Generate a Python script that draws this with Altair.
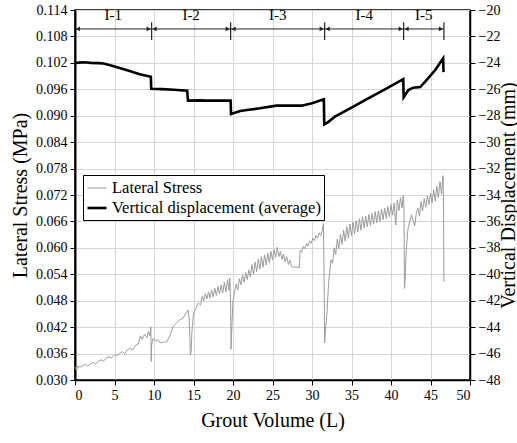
import altair as alt
import pandas as pd

# ---------------- data ----------------
stress_x = [0.0, 0.2, 0.3, 0.8, 1.0, 1.3, 1.6, 2.0, 2.3, 2.6, 3.0, 3.3, 3.6, 4.0, 4.3, 4.6,
            5.0, 5.3, 5.6, 6.0, 6.3, 6.6, 7.0, 7.3, 7.6, 8.0, 8.3, 8.5, 8.8, 9.1, 9.3, 9.5,
            9.6, 9.65, 9.7, 9.9, 10.2, 10.5, 10.8, 11.2, 11.6, 12.0, 12.4, 12.8, 13.2, 13.7,
            14.0, 14.3, 14.45, 14.55, 14.6, 14.7, 14.8, 15.0, 15.3, 15.6, 15.9, 16.1, 16.3,
            16.5, 16.7, 16.9, 17.1, 17.3, 17.5, 17.7, 17.9, 18.1, 18.3, 18.5, 18.7, 18.9,
            19.1, 19.3, 19.5, 19.6, 19.7, 19.75, 19.85, 20.0, 20.2, 20.4, 20.6, 20.8, 21.0,
            21.2, 21.4, 21.6, 21.8, 22.0, 22.2, 22.4, 22.6, 22.8, 23.0, 23.2, 23.4, 23.6,
            23.8, 24.0, 24.2, 24.4, 24.6, 24.8, 25.0, 25.2, 25.4, 25.6, 25.8, 26.0, 26.2,
            26.4, 26.6, 26.8, 27.0, 27.2, 27.4, 27.6, 28.0, 28.4, 28.5, 28.7, 28.9, 29.1,
            29.3, 29.5, 29.7, 29.9, 30.1, 30.3, 30.5, 30.7, 30.9, 31.1, 31.3, 31.45, 31.55,
            31.6, 31.7, 31.9, 32.1, 32.4, 32.6, 32.8, 33.0, 33.2, 33.4, 33.6, 33.8, 34.0,
            34.2, 34.4, 34.6, 34.8, 35.0, 35.2, 35.4, 35.6, 35.8, 36.0, 36.2, 36.4, 36.6,
            36.8, 37.0, 37.2, 37.4, 37.6, 37.8, 38.0, 38.2, 38.4, 38.6, 38.8, 39.0, 39.2,
            39.4, 39.6, 39.8, 40.0, 40.2, 40.4, 40.6, 40.8, 41.0, 41.2, 41.4, 41.55, 41.65,
            41.7, 41.8, 41.9, 42.0, 42.1, 42.2, 42.4, 42.6, 42.8, 43.0, 43.2, 43.4, 43.6,
            43.8, 44.0, 44.2, 44.4, 44.6, 44.8, 45.0, 45.2, 45.4, 45.6, 45.8, 46.0, 46.2,
            46.4, 46.55, 46.6, 46.65, 46.7]
stress_y = [0.0330, 0.0322, 0.0330, 0.0330, 0.0332, 0.0336, 0.0332, 0.0337, 0.0340, 0.0337,
            0.0343, 0.0346, 0.0343, 0.0350, 0.0353, 0.0350, 0.0357, 0.0355, 0.0360, 0.0364,
            0.0360, 0.0368, 0.0372, 0.0368, 0.0378, 0.0382, 0.0400, 0.0392, 0.0404, 0.0396,
            0.0410, 0.0400, 0.0421, 0.0342, 0.0380, 0.0395, 0.0388, 0.0392, 0.0384, 0.0386,
            0.0386, 0.0400, 0.0421, 0.0428, 0.0436, 0.0441, 0.0450, 0.0459, 0.0440, 0.0390,
            0.0357, 0.0365, 0.0410, 0.0452, 0.0462, 0.0475, 0.0470, 0.0490, 0.0480, 0.0496,
            0.0484, 0.0500, 0.0486, 0.0504, 0.0489, 0.0508, 0.0492, 0.0512, 0.0496, 0.0516,
            0.0498, 0.0522, 0.0500, 0.0528, 0.0504, 0.0531, 0.0470, 0.0370, 0.0420, 0.0480,
            0.0500, 0.0518, 0.0504, 0.0530, 0.0516, 0.0538, 0.0522, 0.0544, 0.0528, 0.0550,
            0.0534, 0.0562, 0.0540, 0.0568, 0.0546, 0.0574, 0.0552, 0.0580, 0.0556, 0.0584,
            0.0561, 0.0588, 0.0566, 0.0592, 0.0573, 0.0596, 0.0578, 0.0601, 0.0580, 0.0592,
            0.0574, 0.0586, 0.0568, 0.0580, 0.0562, 0.0572, 0.0558, 0.0556, 0.0557, 0.0555,
            0.0595, 0.0590, 0.0604, 0.0598, 0.0610, 0.0604, 0.0616, 0.0610, 0.0622, 0.0616,
            0.0628, 0.0622, 0.0634, 0.0628, 0.0640, 0.0655, 0.0500, 0.0384, 0.0410, 0.0452,
            0.0520, 0.0573, 0.0565, 0.0600, 0.0585, 0.0620, 0.0598, 0.0630, 0.0608, 0.0640,
            0.0615, 0.0648, 0.0622, 0.0654, 0.0628, 0.0658, 0.0632, 0.0662, 0.0636, 0.0666,
            0.0640, 0.0670, 0.0645, 0.0672, 0.0648, 0.0676, 0.0650, 0.0678, 0.0654, 0.0682,
            0.0657, 0.0684, 0.0660, 0.0688, 0.0664, 0.0690, 0.0667, 0.0694, 0.0670, 0.0698,
            0.0675, 0.0702, 0.0652, 0.0708, 0.0684, 0.0714, 0.0690, 0.0718, 0.0690, 0.0508,
            0.0530, 0.0584, 0.0610, 0.0635, 0.0648, 0.0662, 0.0675, 0.0662, 0.0650, 0.0678,
            0.0690, 0.0672, 0.0705, 0.0684, 0.0712, 0.0692, 0.0718, 0.0698, 0.0724, 0.0702,
            0.0732, 0.0706, 0.0740, 0.0714, 0.0750, 0.0722, 0.0762, 0.0764, 0.0693, 0.0523]

disp_x = [0.0, 0.5, 1.0, 1.5, 2.0, 3.0, 3.6, 4.8, 6.5, 8.2, 9.6, 9.65, 11.0, 12.5, 14.2,
          14.3, 16.0, 16.5, 19.7, 19.75, 20.9, 22.0, 23.4, 25.5, 28.7, 30.0, 31.5, 31.55,
          32.0, 32.9, 35.0, 37.0, 39.0, 41.55, 41.6, 42.2, 42.8, 43.7, 44.5, 45.6, 46.6,
          46.65]
disp_y = [-24.00, -23.98, -23.95, -23.97, -24.00, -24.02, -24.05, -24.24, -24.54, -24.87,
          -25.05, -25.96, -25.99, -26.03, -26.10, -26.86, -26.84, -26.86, -26.86, -27.87,
          -27.65, -27.55, -27.44, -27.24, -27.24, -27.05, -26.76, -28.65, -28.50, -28.07,
          -27.38, -26.73, -26.08, -25.23, -26.60, -26.06, -25.88, -25.83, -25.30, -24.54,
          -23.66, -24.70]

zone_labels = ["I-1", "I-2", "I-3", "I-4", "I-5"]
zone_start = [0.0, 9.7, 19.7, 31.6, 41.6]
zone_end = [9.7, 19.7, 31.6, 41.6, 46.7]
zone_bounds = [9.7, 19.7, 31.6, 41.6, 46.7]
arrow_level = 0.1097
label_level = 0.1128
bound_low = 0.1072
bound_high = 0.1112

x_ticks = [0, 5, 10, 15, 20, 25, 30, 35, 40, 45, 50]
left_ticks = [0.030, 0.036, 0.042, 0.048, 0.054, 0.060, 0.066, 0.072, 0.078, 0.084,
              0.090, 0.096, 0.102, 0.108, 0.114]
right_ticks = [-48, -46, -44, -42, -40, -38, -36, -34, -32, -30, -28, -26, -24, -22, -20]

S1 = "Lateral Stress"
S2 = "Vertical displacement (average)"

# ---------------- tables ----------------
df_s = pd.DataFrame({"x": stress_x, "v": stress_y, "series": S1,
                     "i": list(range(len(stress_x)))})
df_d = pd.DataFrame({"x": disp_x, "v": disp_y, "series": S2,
                     "i": list(range(len(disp_x)))})
df_z = pd.DataFrame({"label": zone_labels, "start": zone_start, "end": zone_end,
                     "mid": [(a + b) / 2 for a, b in zip(zone_start, zone_end)],
                     "ay": arrow_level, "ly": label_level})
df_b = pd.DataFrame({"b": zone_bounds, "lo": bound_low, "hi": bound_high})

FONT = "Liberation Serif"
LBL = dict(labelFont=FONT, labelFontSize=14, labelColor="black", labelOverlap=False,
           titleFont=FONT, titleFontSize=20, titleFontWeight="normal", titleColor="black",
           domainColor="black", tickColor="black", gridColor="#d6d6d6", gridWidth=1)

xs = alt.Scale(domain=[0, 50], nice=False, zero=False)
ys_left = alt.Scale(domain=[0.030, 0.114], nice=False, zero=False)
ys_right = alt.Scale(domain=[-48, -20], nice=False, zero=False)

color_scale = alt.Scale(domain=[S1, S2], range=["#9c9c9c", "#000000"])
width_scale = alt.Scale(domain=[S1, S2], range=[1.0, 2.6])

legend = alt.Legend(title=None, orient="none", legendX=8, legendY=165,
                    symbolType="stroke", symbolSize=361, labelFont=FONT,
                    labelFontSize=16.5, labelColor="black", fillColor="white",
                    strokeColor="black", padding=3, rowPadding=0,
                    labelOffset=4, labelLimit=0)

x_axis = alt.Axis(values=x_ticks, title="Grout Volume (L)", format="d",
                  titlePadding=8, labelPadding=3, tickSize=5, domainWidth=1.5, **LBL)
left_axis = alt.Axis(values=left_ticks, format=".3f", title="Lateral Stress (MPa)",
                     titlePadding=5, labelPadding=3, tickSize=5, domainWidth=2, **LBL)
right_axis = alt.Axis(values=right_ticks, format="d", orient="right",
                      title="Vertical Displacement (mm)", titleAngle=270,
                      titleBaseline="middle", titleAlign="center",
                      titleX=38, titleY=185,
                      labelPadding=3, tickSize=5, domainWidth=1.5,
                      grid=False, **LBL)


def X(field):
    return alt.X(field, scale=xs, axis=x_axis)


def YL(field):
    return alt.Y(field, scale=ys_left, axis=left_axis)


gray = alt.Chart(df_s).mark_line(interpolate="linear").encode(
    x=X("x:Q"),
    y=YL("v:Q"),
    order="i:Q",
    color=alt.Color("series:N", scale=color_scale, legend=legend),
    strokeWidth=alt.StrokeWidth("series:N", scale=width_scale, legend=legend),
)

hline = alt.Chart(df_z).mark_rule(color="#222222", strokeWidth=1).encode(
    x=X("start:Q"), x2="end:Q", y=YL("ay:Q"))
left_arrows = alt.Chart(df_z).mark_point(shape="triangle-left", filled=True, size=22,
                                         color="#222222", opacity=1).encode(
    x=X("start:Q"), y=YL("ay:Q"), xOffset=alt.value(3))
right_arrows = alt.Chart(df_z).mark_point(shape="triangle-right", filled=True, size=22,
                                          color="#222222", opacity=1).encode(
    x=X("end:Q"), y=YL("ay:Q"), xOffset=alt.value(-3))
vrules = alt.Chart(df_b).mark_rule(color="#222222", strokeWidth=1.2).encode(
    x=X("b:Q"), y=YL("lo:Q"), y2="hi:Q")
labels = alt.Chart(df_z).mark_text(font=FONT, fontSize=15, color="black",
                                   baseline="middle").encode(
    x=X("mid:Q"), y=YL("ly:Q"), text="label:N")

left_layer = alt.layer(gray, hline, left_arrows, right_arrows, vrules, labels)

black = alt.Chart(df_d).mark_line(interpolate="linear").encode(
    x=X("x:Q"),
    y=alt.Y("v:Q", scale=ys_right, axis=right_axis),
    order="i:Q",
    color=alt.Color("series:N", scale=color_scale, legend=legend),
    strokeWidth=alt.StrokeWidth("series:N", scale=width_scale, legend=legend),
)

chart = alt.layer(left_layer, black).resolve_scale(y="independent").properties(
    width=395, height=370,
    background="white",
    autosize=alt.AutoSizeParams(type="none"),
    padding={"left": 75, "top": 10, "right": 47, "bottom": 63},
).configure_view(stroke="black", strokeWidth=1.5)

chart.save("out.html", embed_options={"renderer": "svg", "actions": False})
